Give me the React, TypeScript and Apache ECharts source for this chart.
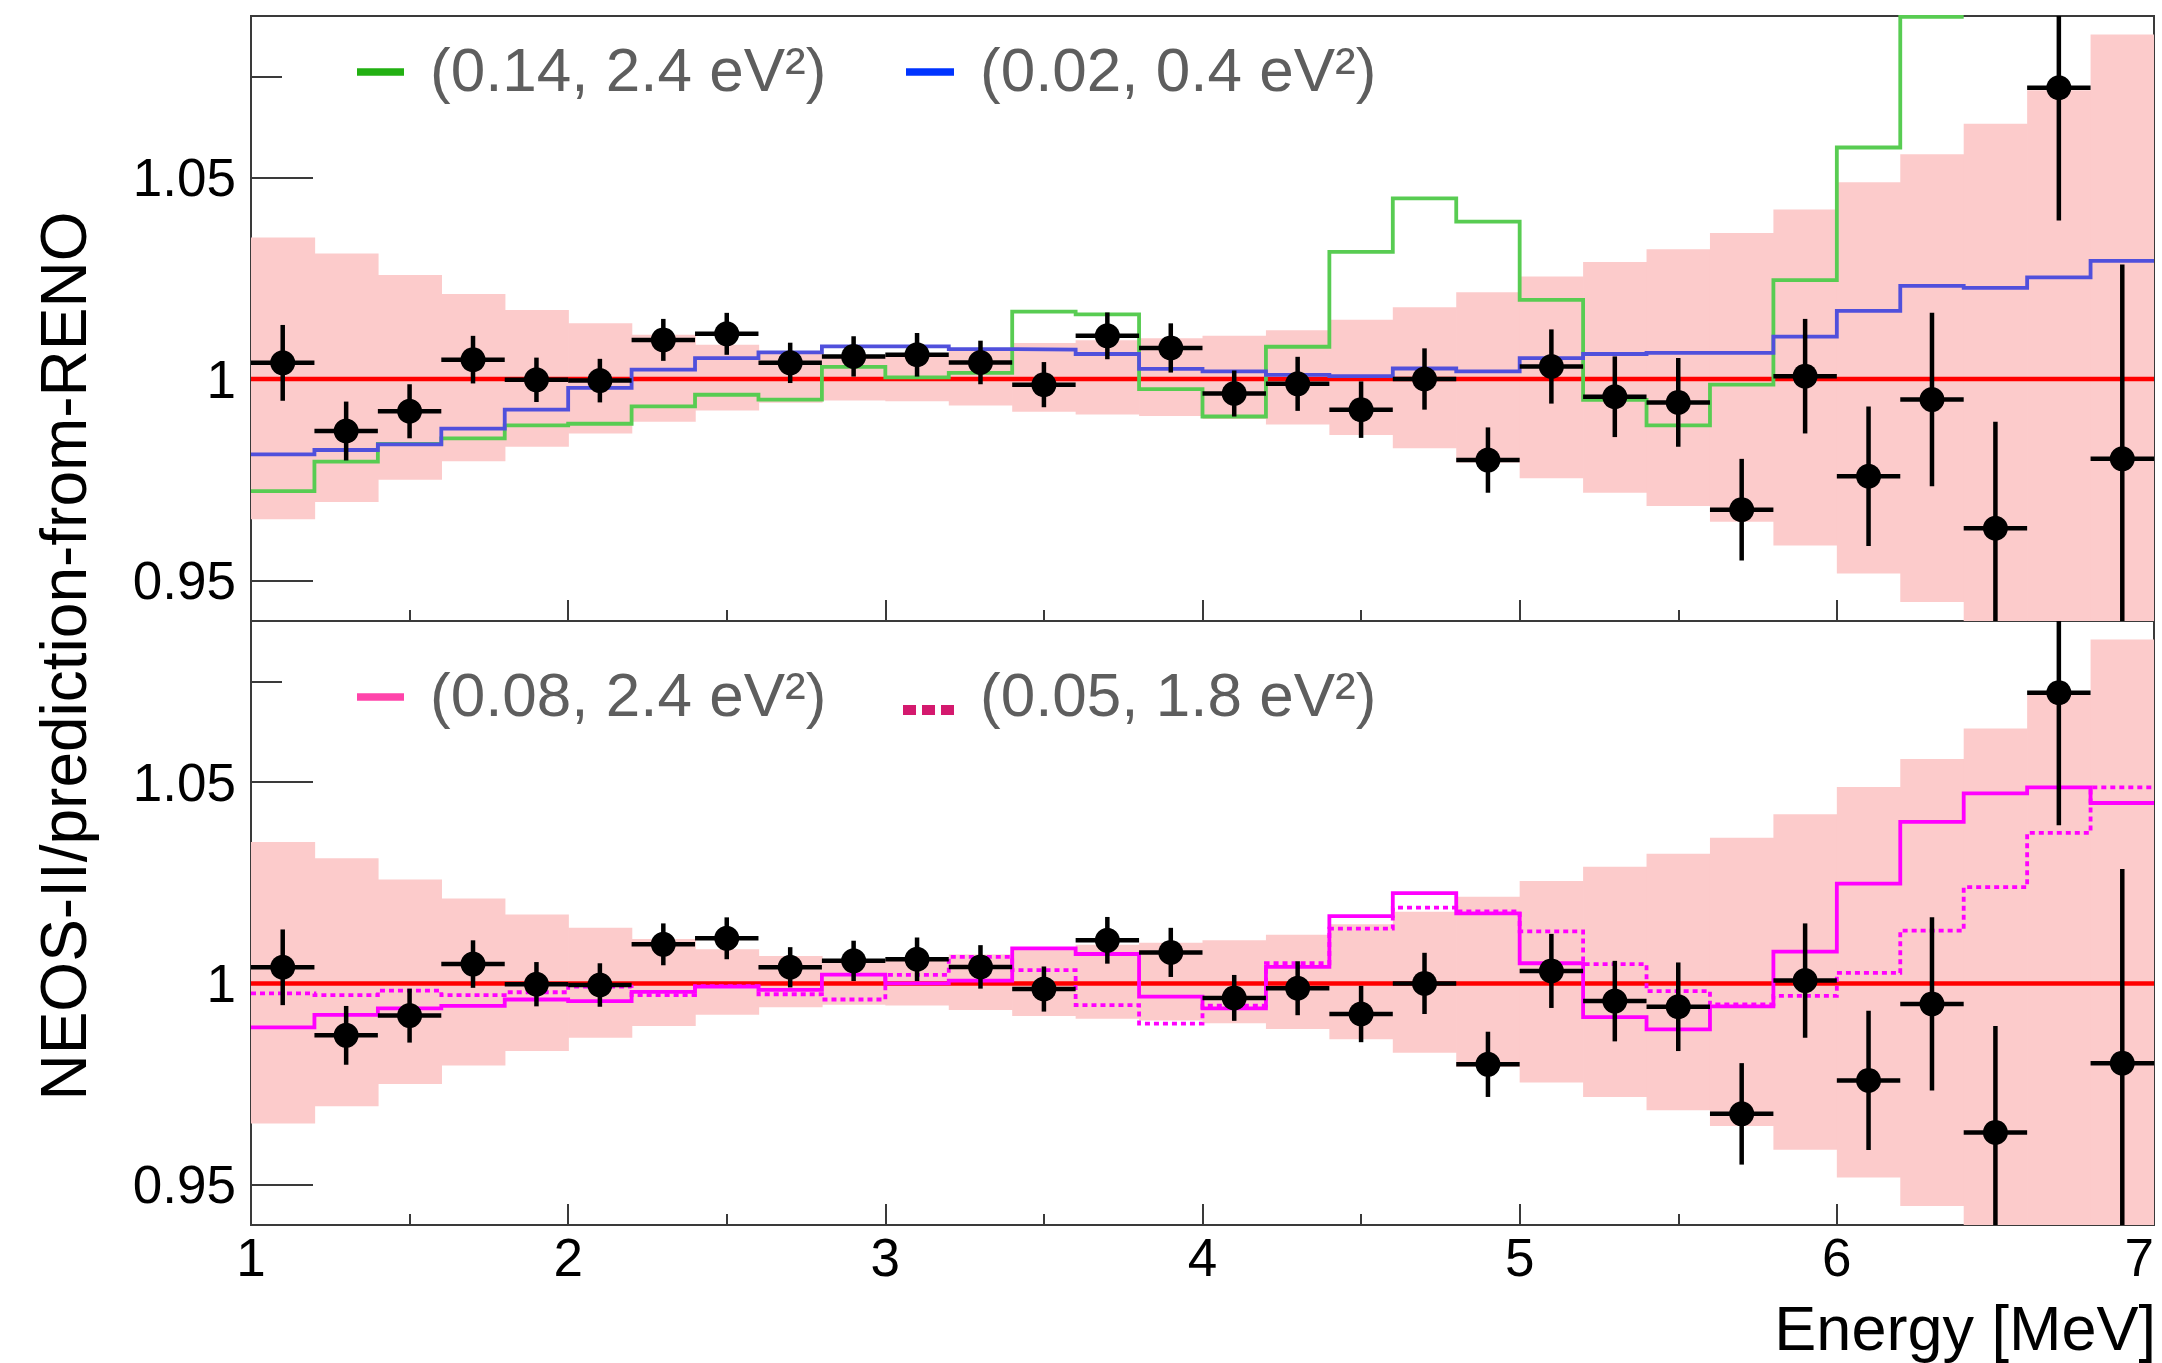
import React, { useEffect, useRef } from "react";
import * as echarts from "echarts";

// ---------- data ----------
const binCenters = [1.1, 1.3, 1.5, 1.7, 1.9, 2.1, 2.3, 2.5, 2.7, 2.9, 3.1, 3.3, 3.5, 3.7, 3.9, 4.1, 4.3, 4.5, 4.7, 4.9, 5.1, 5.3, 5.5, 5.7, 5.9, 6.1, 6.3, 6.5, 6.7, 6.9];
const binHalfWidth = 0.1;

const dataRatio = [1.0040, 0.9871, 0.9920, 1.0048, 0.9998, 0.9996, 1.0097, 1.0112, 1.0040, 1.0056, 1.0060, 1.0041, 0.9986, 1.0107, 1.0077, 0.9964, 0.9988, 0.9924, 1.0000, 0.9799, 1.0031, 0.9956, 0.9942, 0.9676, 1.0007, 0.9759, 0.9949, 0.9630, 1.0722, 0.9802];
const dataError = [0.0094, 0.0073, 0.0067, 0.0059, 0.0055, 0.0054, 0.0052, 0.0052, 0.0050, 0.0050, 0.0054, 0.0054, 0.0056, 0.0058, 0.0061, 0.0057, 0.0067, 0.0070, 0.0076, 0.0081, 0.0092, 0.0100, 0.0110, 0.0126, 0.0142, 0.0173, 0.0215, 0.0264, 0.0329, 0.0482];

// systematic band: deviation above / below 1
const bandUpper = [0.0351, 0.0311, 0.0258, 0.0211, 0.0171, 0.0138, 0.0110, 0.0085, 0.0068, 0.0058, 0.0058, 0.0072, 0.0089, 0.0096, 0.0101, 0.0107, 0.0121, 0.0147, 0.0178, 0.0215, 0.0254, 0.0290, 0.0322, 0.0362, 0.0420, 0.0488, 0.0557, 0.0633, 0.0716, 0.0854];
const bandLower = [0.0348, 0.0305, 0.0250, 0.0204, 0.0168, 0.0135, 0.0106, 0.0078, 0.0059, 0.0053, 0.0055, 0.0066, 0.0081, 0.0088, 0.0092, 0.0099, 0.0113, 0.0139, 0.0172, 0.0207, 0.0246, 0.0282, 0.0315, 0.0354, 0.0413, 0.0482, 0.0553, 0.0630, 0.0710, 0.0850];

// top panel models
const green014_24 = [0.9722, 0.9795, 0.9839, 0.9853, 0.9885, 0.9889, 0.9932, 0.9961, 0.9949, 1.0030, 1.0004, 1.0015, 1.0167, 1.0160, 0.9975, 0.9907, 1.0080, 1.0315, 1.0448, 1.0390, 1.0196, 0.9948, 0.9885, 0.9986, 1.0245, 1.0574, 1.0898, null, null, null];
const blue002_04 = [0.9813, 0.9824, 0.9838, 0.9877, 0.9924, 0.9978, 1.0023, 1.0052, 1.0066, 1.0081, 1.0081, 1.0074, 1.0073, 1.0062, 1.0025, 1.0019, 1.0010, 1.0007, 1.0026, 1.0019, 1.0052, 1.0062, 1.0065, 1.0065, 1.0105, 1.0169, 1.0231, 1.0226, 1.0252, 1.0293];

// bottom panel models
const magenta008_24 = [0.9891, 0.9922, 0.9938, 0.9944, 0.9960, 0.9956, 0.9979, 0.9992, 0.9984, 1.0022, 1.0000, 1.0007, 1.0087, 1.0073, 0.9967, 0.9938, 1.0041, 1.0167, 1.0224, 1.0174, 1.0050, 0.9916, 0.9886, 0.9943, 1.0079, 1.0248, 1.0401, 1.0472, 1.0487, 1.0448];
const magenta005_18 = [0.9975, 0.9971, 0.9982, 0.9971, 0.9978, 0.9992, 0.9971, 0.9993, 0.9973, 0.9960, 1.0021, 1.0066, 1.0033, 0.9946, 0.9900, 0.9945, 1.0050, 1.0136, 1.0188, 1.0179, 1.0129, 1.0048, 0.9981, 0.9948, 0.9969, 1.0026, 1.0131, 1.0239, 1.0374, 1.0487];

const xRange = [1, 7];
const yRange = [0.94, 1.09];
const yMajorTicks = [0.95, 1, 1.05];
const yMinorTicks = [0.975, 1.025, 1.075];
const referenceLevel = 1;

const legendTopLabels = ["(0.14, 2.4 eV²)", "(0.02, 0.4 eV²)"];
const legendBottomLabels = ["(0.08, 2.4 eV²)", "(0.05, 1.8 eV²)"];
const yTitle = "NEOS-II/prediction-from-RENO";
const xTitle = "Energy [MeV]";

// ---------- styles ----------
const FONT = "'Liberation Sans', Arial, Helvetica, sans-serif";
const BAND = "#fccbcb";
const FRAME = "#3a3a3a";
const LEGEND_TEXT = "#5e5e5e";

function stepPoints(vals: (number | null)[]) {
  const pts: number[][] = [];
  vals.forEach((v, i) => {
    if (v == null) return;
    pts.push([binCenters[i] - binHalfWidth, v], [binCenters[i] + binHalfWidth, v]);
  });
  return pts;
}

const bandData = binCenters.map((c, i) => [c - binHalfWidth, c + binHalfWidth, referenceLevel - bandLower[i], referenceLevel + bandUpper[i]]);
const pointData = binCenters.map((c, i) => [c, dataRatio[i], dataError[i]]);

function bandRender(params: any, api: any) {
  const p0 = api.coord([api.value(0), api.value(3)]);
  const p1 = api.coord([api.value(1), api.value(2)]);
  const cs = params.coordSys;
  const r = echarts.graphic.clipRectByRect(
    { x: p0[0], y: p0[1], width: p1[0] - p0[0] + 0.7, height: p1[1] - p0[1] },
    { x: cs.x, y: cs.y, width: cs.width, height: cs.height }
  );
  if (!r) return null;
  return { type: "rect", shape: r, style: { fill: BAND } };
}

function pointRender(params: any, api: any) {
  const x = api.value(0);
  const y = api.value(1);
  const e = api.value(2);
  const cs = params.coordSys;
  const c = api.coord([x, y]);
  const t = api.coord([x, y + e]);
  const b = api.coord([x, y - e]);
  const l = api.coord([x - binHalfWidth, y]);
  const r = api.coord([x + binHalfWidth, y]);
  const top = Math.max(t[1], cs.y);
  const bot = Math.min(b[1], cs.y + cs.height);
  const children: any[] = [];
  if (bot > top) {
    children.push({ type: "line", shape: { x1: c[0], y1: top, x2: c[0], y2: bot }, style: { stroke: "#000", lineWidth: 4.5 } });
  }
  if (c[1] >= cs.y && c[1] <= cs.y + cs.height) {
    children.push({ type: "line", shape: { x1: l[0], y1: c[1], x2: r[0], y2: c[1] }, style: { stroke: "#000", lineWidth: 4.5 } });
    children.push({ type: "circle", shape: { cx: c[0], cy: c[1], r: 12.5 }, style: { fill: "#000" } });
  }
  return { type: "group", children };
}

function xAxisFor(gridIndex: number, showLabels: boolean) {
  return {
    type: "value",
    gridIndex,
    min: xRange[0],
    max: xRange[1],
    interval: 1,
    position: "bottom",
    axisLine: { show: false },
    splitLine: { show: false },
    axisTick: { show: true, inside: true, length: 21, lineStyle: { color: FRAME, width: 2 } },
    minorTick: { show: true, splitNumber: 2, length: 11, lineStyle: { color: FRAME, width: 2 } },
    axisLabel: {
      show: showLabels,
      fontSize: 53,
      fontFamily: FONT,
      color: "#000",
      margin: 6,
      showMinLabel: true,
      showMaxLabel: true,
      alignMaxLabel: "right",
    },
  };
}

function yAxesFor(gridIndex: number) {
  return [
    {
      type: "value",
      gridIndex,
      min: yRange[0],
      max: yRange[1],
      position: "left",
      axisLine: { show: false },
      splitLine: { show: false },
      axisTick: { show: true, inside: true, length: 62, customValues: yMajorTicks, lineStyle: { color: FRAME, width: 2 } },
      axisLabel: {
        show: true,
        customValues: yMajorTicks,
        fontSize: 53,
        fontFamily: FONT,
        color: "#000",
        margin: 15,
        formatter: (v: number) => String(v),
      },
    },
    {
      type: "value",
      gridIndex,
      min: yRange[0],
      max: yRange[1],
      position: "left",
      offset: 0,
      axisLine: { show: false },
      splitLine: { show: false },
      axisTick: { show: true, inside: true, length: 31, customValues: yMinorTicks, lineStyle: { color: FRAME, width: 2 } },
      axisLabel: { show: false },
    },
  ];
}

function panelSeries(xi: number, yi: number, models: { vals: (number | null)[]; color: string; dashed?: boolean; name: string }[]) {
  const s: any[] = [
    {
      type: "custom",
      name: "band" + xi,
      xAxisIndex: xi,
      yAxisIndex: yi,
      renderItem: bandRender,
      data: bandData,
      encode: { x: [0, 1], y: [2, 3] },
      z: 1,
      silent: true,
    },
    {
      type: "line",
      name: "ref" + xi,
      xAxisIndex: xi,
      yAxisIndex: yi,
      data: [[xRange[0], referenceLevel], [xRange[1], referenceLevel]],
      showSymbol: false,
      lineStyle: { color: "#ff0000", width: 4.5 },
      z: 2,
      silent: true,
    },
  ];
  models.forEach((m) => {
    s.push({
      type: "line",
      name: m.name,
      xAxisIndex: xi,
      yAxisIndex: yi,
      data: stepPoints(m.vals),
      showSymbol: false,
      clip: true,
      lineStyle: { color: m.color, width: 3.8, type: m.dashed ? [5, 4] : "solid", cap: "butt", join: "miter" },
      z: 3,
      silent: true,
    });
  });
  s.push({
    type: "custom",
    name: "data" + xi,
    xAxisIndex: xi,
    yAxisIndex: yi,
    renderItem: pointRender,
    data: pointData,
    encode: { x: 0, y: 1 },
    z: 4,
    silent: true,
  });
  return s;
}

function legendGraphics(yMarker: number, yText: number, labels: string[], colors: string[], dottedSecond: boolean) {
  const els: any[] = [];
  els.push({ type: "rect", shape: { x: 357, y: yMarker - 3.7, width: 47, height: 7.4 }, style: { fill: colors[0] } });
  els.push({
    type: "text",
    x: 430,
    y: yText,
    style: { text: labels[0], fontSize: 62, fontFamily: FONT, fill: LEGEND_TEXT, align: "left", verticalAlign: "middle", textAlign: "left", textVerticalAlign: "middle" },
  });
  if (dottedSecond) {
    [0, 1, 2].forEach((k) => {
      els.push({ type: "rect", shape: { x: 903 + k * 19, y: yMarker + 8, width: 13, height: 10 }, style: { fill: colors[1] } });
    });
  } else {
    els.push({ type: "rect", shape: { x: 906, y: yMarker - 3.7, width: 48, height: 7.4 }, style: { fill: colors[1] } });
  }
  els.push({
    type: "text",
    x: 980,
    y: yText,
    style: { text: labels[1], fontSize: 62, fontFamily: FONT, fill: LEGEND_TEXT, align: "left", verticalAlign: "middle", textAlign: "left", textVerticalAlign: "middle" },
  });
  return els;
}

export default function App() {
  const ref = useRef<HTMLDivElement>(null);
  useEffect(() => {
    if (!ref.current) return;
    document.body.style.margin = "0";
    const chart = echarts.init(ref.current, undefined, { renderer: "svg" });
    const gridBase = {
      left: 251,
      width: 1903,
      show: true,
      borderColor: FRAME,
      borderWidth: 2,
      backgroundColor: "transparent",
      containLabel: false,
      outerBoundsMode: "none",
    };
    const option: any = {
      animation: false,
      backgroundColor: "#ffffff",
      grid: [
        { ...gridBase, top: 16, height: 605 },
        { ...gridBase, top: 621, height: 604 },
      ],
      xAxis: [xAxisFor(0, false), xAxisFor(1, true)],
      yAxis: [...yAxesFor(0), ...yAxesFor(1)],
      series: [
        ...panelSeries(0, 0, [
          { vals: green014_24, color: "#58cc52", name: legendTopLabels[0] },
          { vals: blue002_04, color: "#5050dc", name: legendTopLabels[1] },
        ]),
        ...panelSeries(1, 2, [
          { vals: magenta005_18, color: "#ff00ff", dashed: true, name: legendBottomLabels[1] },
          { vals: magenta008_24, color: "#ff00ff", name: legendBottomLabels[0] },
        ]),
      ],
      graphic: [
        ...legendGraphics(72, 69, legendTopLabels, ["#22b012", "#0034ff"], false),
        ...legendGraphics(697, 694, legendBottomLabels, ["#ff44aa", "#d4196e"], true),
        {
          type: "text",
          x: 64,
          y: 656,
          rotation: Math.PI / 2,
          style: { text: yTitle, fontSize: 64, fontFamily: FONT, fill: "#000", align: "center", verticalAlign: "middle", textAlign: "center", textVerticalAlign: "middle" },
        },
        {
          type: "text",
          x: 2156,
          y: 1328,
          style: { text: xTitle, fontSize: 63, fontFamily: FONT, fill: "#000", align: "right", verticalAlign: "middle", textAlign: "right", textVerticalAlign: "middle" },
        },
      ],
    };
    chart.setOption(option);
    return () => chart.dispose();
  }, []);
  return <div ref={ref} style={{ position: "fixed", left: 0, top: 0, width: 2162, height: 1363, background: "#fff" }} />;
}
